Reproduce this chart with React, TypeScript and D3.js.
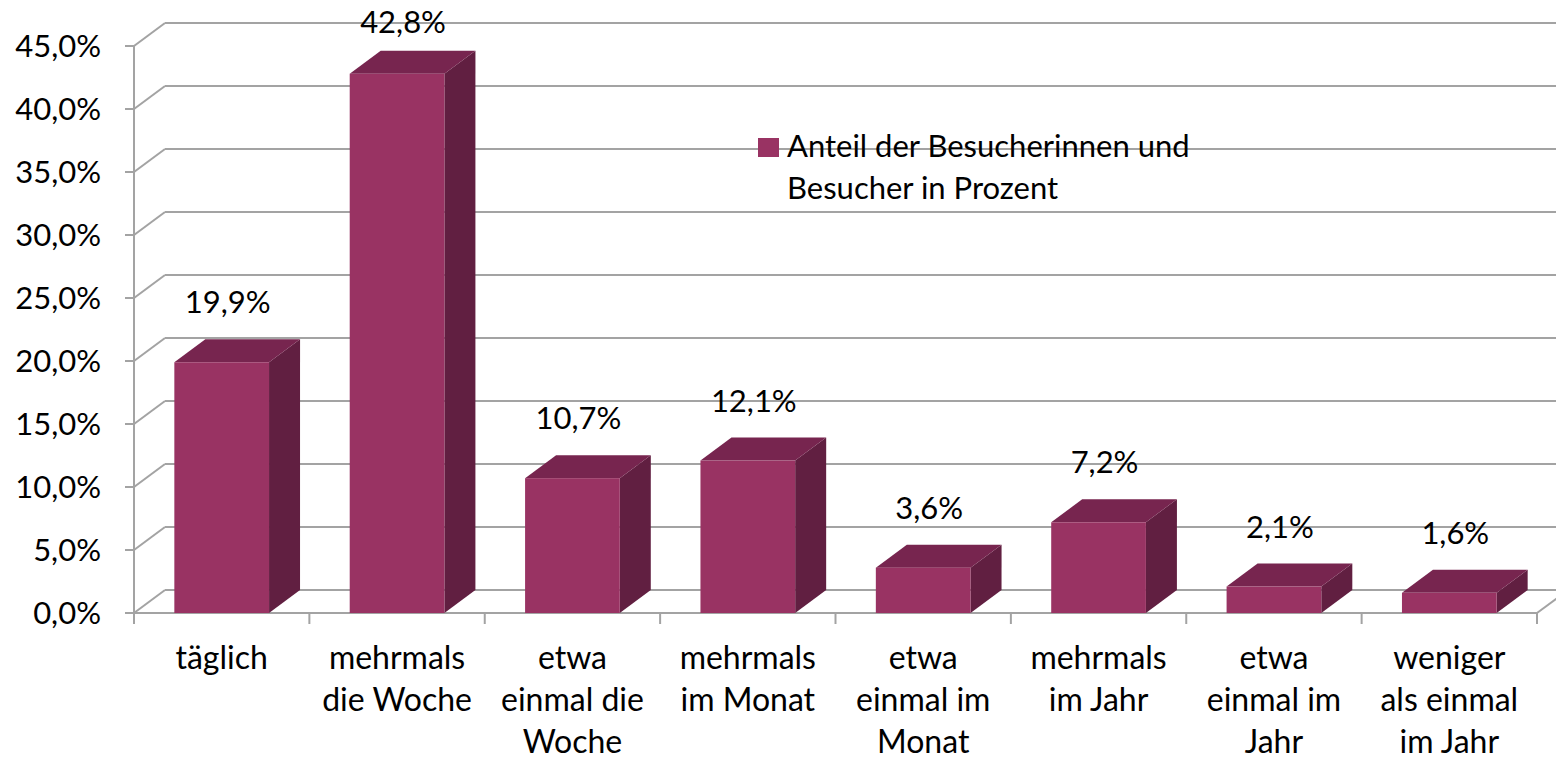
import React from "react";
import { scaleBand, scaleLinear, range } from "d3";

const categories = [
  ["täglich"],
  ["mehrmals", "die Woche"],
  ["etwa", "einmal die", "Woche"],
  ["mehrmals", "im Monat"],
  ["etwa", "einmal im", "Monat"],
  ["mehrmals", "im Jahr"],
  ["etwa", "einmal im", "Jahr"],
  ["weniger", "als einmal", "im Jahr"],
];
const values = [19.9, 42.8, 10.7, 12.1, 3.6, 7.2, 2.1, 1.6];
const yTicks = [0, 5, 10, 15, 20, 25, 30, 35, 40, 45];
const seriesName = ["Anteil der Besucherinnen und", "Besucher in Prozent"];

const W = 1556;
const H = 759;
const FONT = "Lato, 'Open Sans', sans-serif";
const FS = 31;
const GRID = "#a3a3a3";

// 3d depth offset of the floor / walls
const DX = 31;
const DY = -23;

const fmt = (v: number) => v.toFixed(1).replace(".", ",") + "%";

export default function App() {
  const x = scaleBand<number>()
    .domain(range(values.length))
    .range([134, 1537])
    .paddingInner(0.46)
    .paddingOuter(0.23);
  const step = x.step();
  const y = scaleLinear().domain([0, 45]).range([613, 46]);
  const bw = x.bandwidth();

  return (
    <svg
      width={W}
      height={H}
      style={{ position: "absolute", left: 0, top: 0, background: "#fff" }}
      fontFamily={FONT}
    >
      {/* back wall gridlines + side wall diagonals */}
      {yTicks.map((t) => (
        <g key={t} stroke={GRID} strokeWidth={2} fill="none">
          <line x1={134 + DX} x2={W} y1={y(t) + DY} y2={y(t) + DY} />
          <line x1={134} x2={134 + DX} y1={y(t)} y2={y(t) + DY} />
          <line x1={125} x2={134} y1={y(t)} y2={y(t)} />
        </g>
      ))}
      {/* floor front edge and axis */}
      <g stroke={GRID} strokeWidth={2} fill="none">
        <line x1={134} x2={134} y1={y(45)} y2={y(0)} />
        <line x1={134} x2={1537} y1={y(0)} y2={y(0)} />
        <line x1={1537} x2={1537 + DX} y1={y(0)} y2={y(0) + DY} />
        {range(values.length + 1).map((i) => (
          <line key={i} x1={134 + i * step} x2={134 + i * step} y1={y(0)} y2={y(0) + 11} />
        ))}
      </g>

      {/* bars */}
      {values.map((v, i) => {
        const x0 = x(i) as number;
        const x1 = x0 + bw;
        const yt = y(v);
        const yb = y(0);
        return (
          <g key={i}>
            <path
              d={`M${x1},${yb}L${x1 + DX},${yb + DY}L${x1 + DX},${yt + DY}L${x1},${yt}Z`}
              fill="#611f41"
            />
            <path
              d={`M${x0},${yt}L${x0 + DX},${yt + DY}L${x1 + DX},${yt + DY}L${x1},${yt}Z`}
              fill="#77254f"
            />
            <rect x={x0} y={yt} width={bw} height={yb - yt} fill="#993363" />
          </g>
        );
      })}

      {/* value labels */}
      {values.map((v, i) => (
        <text
          key={i}
          x={(x(i) as number) + bw / 2 + 6}
          y={Math.max(y(v) + DY - 26, 33)}
          textAnchor="middle"
          fontSize={FS}
          fill="#000"
        >
          {fmt(v)}
        </text>
      ))}

      {/* y tick labels */}
      {yTicks.map((t) => (
        <text key={t} x={101} y={y(t)} dy="0.36em" textAnchor="end" fontSize={FS} fill="#000">
          {fmt(t)}
        </text>
      ))}

      {/* category labels */}
      {categories.map((lines, i) => (
        <text
          key={i}
          x={134 + i * step + step / 2}
          y={669}
          textAnchor="middle"
          fontSize={32}
          fill="#000"
        >
          {lines.map((l, j) => (
            <tspan key={j} x={134 + i * step + step / 2} dy={j === 0 ? 0 : 42}>
              {l}
            </tspan>
          ))}
        </text>
      ))}

      {/* legend */}
      <rect x={758} y={138} width={21} height={19} fill="#993363" />
      <text x={787} y={157} fontSize={FS} fill="#000">
        {seriesName.map((l, j) => (
          <tspan key={j} x={787} dy={j === 0 ? 0 : 42}>
            {l}
          </tspan>
        ))}
      </text>
    </svg>
  );
}
